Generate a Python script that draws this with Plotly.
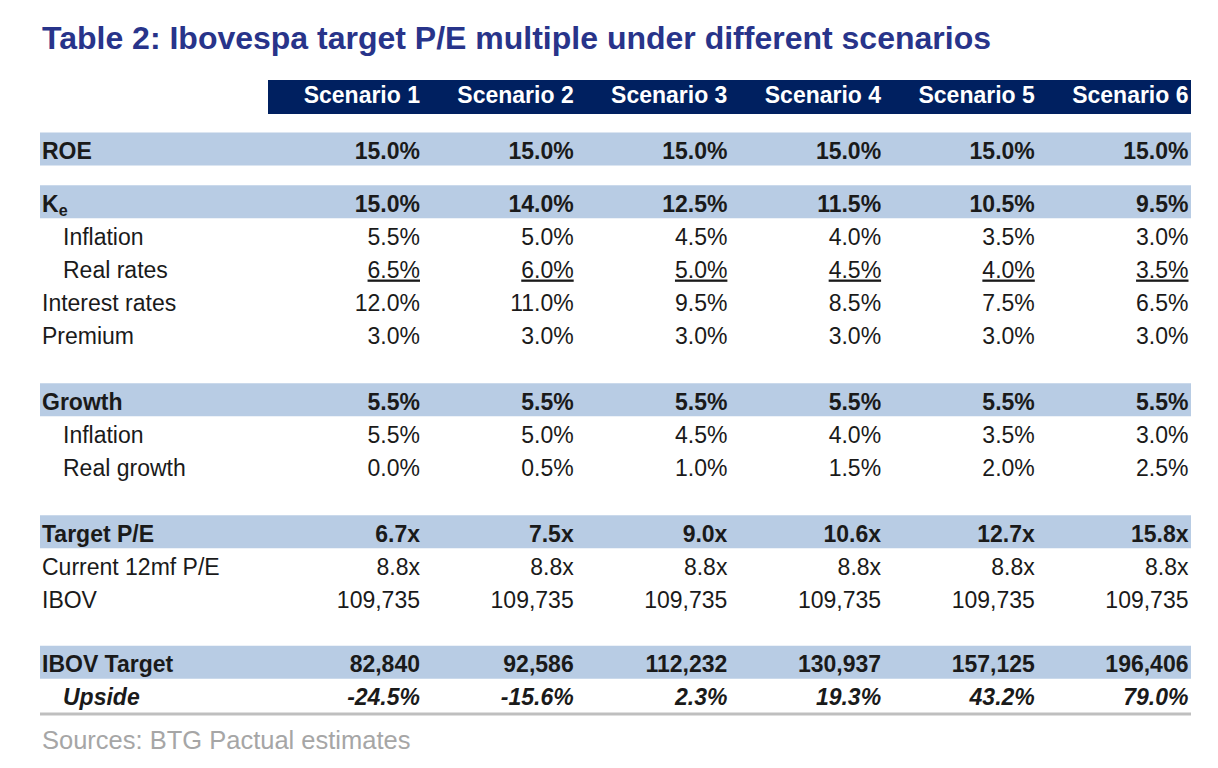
import plotly.graph_objects as go

# scenario columns
scenarios = ["Scenario 1", "Scenario 2", "Scenario 3", "Scenario 4", "Scenario 5", "Scenario 6"]

# table rows (values per scenario)
roe = [15.0, 15.0, 15.0, 15.0, 15.0, 15.0]
ke = [15.0, 14.0, 12.5, 11.5, 10.5, 9.5]
ke_inflation = [5.5, 5.0, 4.5, 4.0, 3.5, 3.0]
real_rates = [6.5, 6.0, 5.0, 4.5, 4.0, 3.5]
interest_rates = [12.0, 11.0, 9.5, 8.5, 7.5, 6.5]
premium = [3.0, 3.0, 3.0, 3.0, 3.0, 3.0]
growth = [5.5, 5.5, 5.5, 5.5, 5.5, 5.5]
g_inflation = [5.5, 5.0, 4.5, 4.0, 3.5, 3.0]
real_growth = [0.0, 0.5, 1.0, 1.5, 2.0, 2.5]
target_pe = [6.7, 7.5, 9.0, 10.6, 12.7, 15.8]
current_pe = [8.8, 8.8, 8.8, 8.8, 8.8, 8.8]
ibov = [109735, 109735, 109735, 109735, 109735, 109735]
ibov_target = [82840, 92586, 112232, 130937, 157125, 196406]
upside = [-24.5, -15.6, 2.3, 19.3, 43.2, 79.0]

title = "Table 2: Ibovespa target P/E multiple under different scenarios"
source = "Sources: BTG Pactual estimates"

pct = lambda v: f"{v:.1f}%"
mult = lambda v: f"{v:.1f}x"
num = lambda v: f"{v:,.0f}"

# label, values, formatter, style, indent
rows = [
    ("ROE", roe, pct, "b", False),
    ("K<sub>e</sub>", ke, pct, "b", False),
    ("Inflation", ke_inflation, pct, "", True),
    ("Real rates", real_rates, pct, "u", True),
    ("Interest rates", interest_rates, pct, "", False),
    ("Premium", premium, pct, "", False),
    ("Growth", growth, pct, "b", False),
    ("Inflation", g_inflation, pct, "", True),
    ("Real growth", real_growth, pct, "", True),
    ("Target P/E", target_pe, mult, "b", False),
    ("Current 12mf P/E", current_pe, mult, "", False),
    ("IBOV", ibov, num, "", False),
    ("IBOV Target", ibov_target, num, "b", False),
    ("Upside", upside, pct, "bi", True),
]
row_slots = [0, 1.6, 2.6, 3.6, 4.6, 5.6, 7.6, 8.6, 9.6, 11.6, 12.6, 13.6, 15.55, 16.55]
band_rows = {"ROE", "K<sub>e</sub>", "Growth", "Target P/E", "IBOV Target"}

# page is offset by the default 8px body margin
OFF = 8
FW, FH = 1218 - 2 * OFF, 768 - 2 * OFF
PITCH, Y0 = 33.0, 151.0
def slot(px):
    return (px - Y0) / PITCH

TXT_SHIFT = 0.06   # text sits a touch below band centre
BAND_SHIFT = -0.06

col_right = [420 + 153.7 * i for i in range(len(scenarios))]
left, right = 40, 1191

NAVY = "#002060"
BAND = "#B8CCE4"
TXT = "#1A1A1A"
FONT = "Liberation Sans, Arial, sans-serif"
FS = 23


def style(text, s, label=False):
    if "u" in s and not label:
        text = f"<u>{text}</u>"
    if "i" in s:
        text = f"<i>{text}</i>"
    if "b" in s:
        text = f"<b>{text}</b>"
    return text


text_y = [s + TXT_SHIFT for s in row_slots]

fig = go.Figure()

# row labels
fig.add_trace(go.Scatter(
    x=[63 if r[4] else 42 for r in rows],
    y=text_y,
    text=[style(r[0], r[3], label=True) for r in rows],
    mode="text", textposition="middle right",
    textfont=dict(family=FONT, size=FS, color=TXT),
    hoverinfo="skip", showlegend=False,
))

# values per scenario column
for j, name in enumerate(scenarios):
    fig.add_trace(go.Scatter(
        x=[col_right[j]] * len(rows),
        y=text_y,
        text=[style(r[2](r[1][j]), r[3]) for r in rows],
        mode="text", textposition="middle left",
        textfont=dict(family=FONT, size=FS, color=TXT),
        hoverinfo="skip", showlegend=False,
    ))

# header labels
fig.add_trace(go.Scatter(
    x=col_right, y=[slot(97)] * len(scenarios),
    text=[f"<b>{s}</b>" for s in scenarios],
    mode="text", textposition="middle left",
    textfont=dict(family=FONT, size=FS, color="white"),
    hoverinfo="skip", showlegend=False,
))

shapes = [dict(type="rect", xref="x", yref="y", x0=268, x1=right,
               y0=slot(80), y1=slot(114), fillcolor=NAVY, line_width=0, layer="below")]
for r, s in zip(rows, row_slots):
    if r[0] in band_rows:
        shapes.append(dict(type="rect", xref="x", yref="y", x0=left, x1=right,
                           y0=s + BAND_SHIFT - 0.5, y1=s + BAND_SHIFT + 0.5,
                           fillcolor=BAND, line_width=0, layer="below"))
shapes.append(dict(type="line", xref="x", yref="y", x0=left, x1=right,
                   y0=slot(714), y1=slot(714), line=dict(color="#BFBFBF", width=3)))

fig.update_layout(
    width=FW, height=FH,
    margin=dict(l=0, r=0, t=0, b=0),
    paper_bgcolor="white", plot_bgcolor="white",
    xaxis=dict(range=[OFF, OFF + FW], visible=False, fixedrange=True),
    yaxis=dict(range=[slot(OFF + FH), slot(OFF)], visible=False, fixedrange=True),
    shapes=shapes,
    annotations=[
        dict(text=f"<b>{title}</b>", x=(40 - OFF) / FW, y=1 - (38 - OFF) / FH,
             xref="paper", yref="paper", xanchor="left", yanchor="middle", showarrow=False,
             font=dict(family=FONT, size=32, color="#28348A")),
        dict(text=source, x=(40 - OFF) / FW, y=1 - (740 - OFF) / FH,
             xref="paper", yref="paper", xanchor="left", yanchor="middle", showarrow=False,
             font=dict(family=FONT, size=25.5, color="#A6A6A6")),
    ],
)

fig.write_html("out.html")
